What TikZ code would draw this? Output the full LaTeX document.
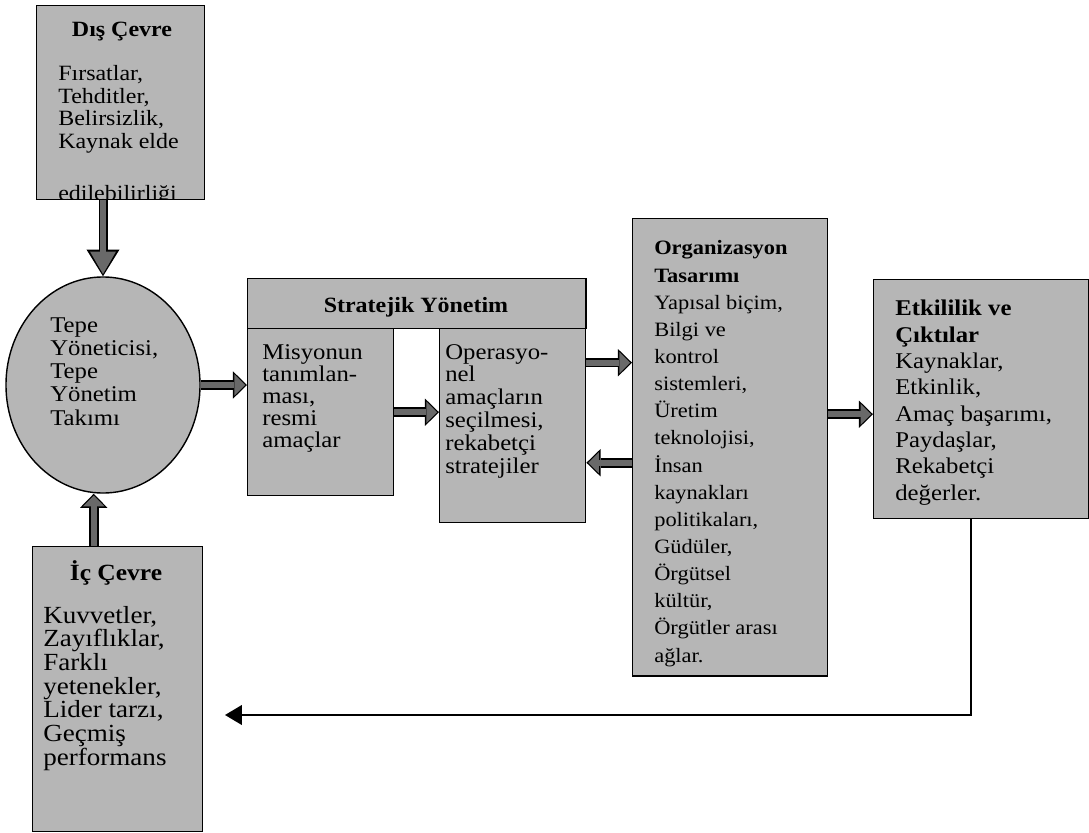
\documentclass[tikz,border=0pt]{standalone}
\usepackage{fontspec}
\setmainfont{Liberation Serif}[FakeStretch=1.1]
\usetikzlibrary{shapes.geometric,arrows.meta}
\definecolor{boxgray}{RGB}{182,182,182}
\definecolor{arrowgray}{RGB}{105,105,105}
\lineskiplimit=-30pt

\begin{document}
\begin{tikzpicture}[x=0.025cm, y=-0.025cm,
    panel/.style={rectangle, draw, line width=1pt, fill=boxgray, inner sep=0pt, anchor=north west},
    % text nodes sit on the baseline of their last line
    words/.style={align=left, inner sep=0pt, anchor=base west},
    title/.style={inner sep=0pt, anchor=base, font=\bfseries\fontsize{15.5}{16}\selectfont},
    flow/.style={draw=arrowgray, line width=4.4pt, shorten >=1.4pt,
        -{Triangle[length=7.5pt, width=15pt, line width=0pt]},
        preaction={draw=black, line width=6.8pt, shorten >=0pt,
            -{Triangle[length=10pt, width=19.5pt, line width=0pt]}}},
    longflow/.style={draw=arrowgray, line width=4pt, shorten >=1.6pt,
        -{Triangle[length=16pt, width=18.5pt, line width=0pt]},
        preaction={draw=black, line width=6.4pt, shorten >=0pt,
            -{Triangle[length=19pt, width=23.5pt, line width=0pt]}}},
    back/.style={draw=black, line width=1.2pt, -{Triangle[length=12pt, width=14pt]}}]

    \useasboundingbox (0,0) rectangle (1089,833);

    % dis cevre
    \node[panel, minimum width=4.2cm, minimum height=4.85cm] (dis) at (36,5) {};
    \node[title] (disHead) at (122,37) {Dış Çevre};
    \begin{scope}
        \clip ([yshift=0.6pt]dis.south west) rectangle (dis.north east);
        \node[words, font=\fontsize{15.5}{16.1}\selectfont] (disText) at (58,201)
            {Fırsatlar,\\Tehditler,\\Belirsizlik,\\Kaynak elde\\[0.75cm]edilebilirliği};
    \end{scope}

    % tepe yonetim
    \node[ellipse, draw, line width=1pt, fill=boxgray, minimum width=4.85cm, minimum height=5.4cm, inner sep=0pt] (tepe) at (103,385) {};
    \node[words, font=\fontsize{16}{16.4}\selectfont] (tepeText) at (50,425)
        {Tepe\\Yöneticisi,\\Tepe\\Yönetim\\Takımı};

    % ic cevre
    \node[panel, minimum width=4.25cm, minimum height=7.125cm] (ic) at (32,546) {};
    \node[title, font=\bfseries\fontsize{16.5}{18}\selectfont] (icHead) at (116,580) {İç Çevre};
    \node[words, font=\fontsize{17.5}{16.8}\selectfont] (icText) at (43,765)
        {Kuvvetler,\\Zayıflıklar,\\Farklı\\yetenekler,\\Lider tarzı,\\Geçmiş\\performans};

    % stratejik yonetim
    \node[panel, minimum width=8.45cm, minimum height=1.25cm] (strat) at (247,278) {};
    \node[title] (stratHead) at (416,312) {Stratejik Yönetim};
    \node[panel, minimum width=3.65cm, minimum height=4.175cm] (mis) at (247,328) {};
    \node[words, font=\fontsize{16}{15.6}\selectfont] (misText) at (262,447)
        {Misyonun\\tanımlan-\\ması,\\resmi\\amaçlar};
    \node[panel, minimum width=3.65cm, minimum height=4.85cm] (ops) at (439,328) {};
    \node[words, font=\fontsize{16}{16.2}\selectfont] (opsText) at (445,473)
        {Operasyo-\\nel\\amaçların\\seçilmesi,\\rekabetçi\\stratejiler};

    % organizasyon tasarimi
    \node[panel, minimum width=4.875cm, minimum height=11.425cm] (org) at (632,218) {};
    \node[words, font=\fontsize{14.5}{19.3}\selectfont] (orgText) at (654,662)
        {\textbf{Organizasyon}\\\textbf{Tasarımı}\\Yapısal biçim,\\Bilgi ve\\kontrol\\sistemleri,\\Üretim\\teknolojisi,\\İnsan\\kaynakları\\politikaları,\\Güdüler,\\Örgütsel\\kültür,\\Örgütler arası\\ağlar.};

    % etkililik
    \node[panel, minimum width=5.375cm, minimum height=5.975cm] (etk) at (873,279) {};
    \node[words, font=\fontsize{16}{18.7}\selectfont] (etkText) at (895,500)
        {\textbf{Etkililik ve}\\\textbf{Çıktılar}\\Kaynaklar,\\Etkinlik,\\Amaç başarımı,\\Paydaşlar,\\Rekabetçi\\değerler.};

    % arrows
    \draw[longflow] (dis.south -| tepe.north) -- (tepe.north);
    \draw[flow] ([xshift=-0.6cm]ic.north) -- ([xshift=-0.6cm]ic.north |- tepe.south);
    \draw[flow] (tepe.east) -- (tepe.east -| mis.west);
    \draw[flow] (mis.east) -- (mis.east -| ops.west);
    \draw[flow] ([yshift=1.575cm]ops.east) -- ([yshift=1.575cm]ops.east -| org.west);
    \draw[flow] ([yshift=-0.925cm]ops.east -| org.west) -- ([yshift=-0.925cm]ops.east);
    \draw[flow] ([yshift=-0.375cm]etk.west -| org.east) -- ([yshift=-0.375cm]etk.west);
    \coordinate (backEnd) at (225,715);
    \draw[back] ([xshift=-0.25cm]etk.south) |- (backEnd);
\end{tikzpicture}
\end{document}
